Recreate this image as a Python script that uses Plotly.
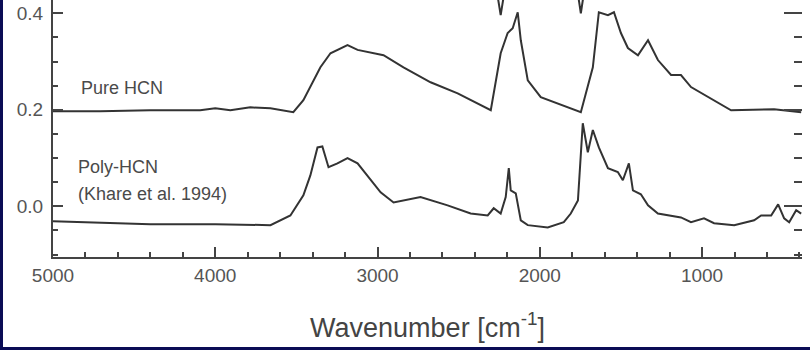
import plotly.graph_objects as go

# IR spectra (wavenumber in cm^-1, absorbance offset)
pure_wn = [5000, 4710, 4401, 4093, 4000, 3907, 3784, 3660, 3519, 3457, 3352, 3290,
           3185, 3123, 2963, 2840, 2673, 2506, 2302, 2241, 2198, 2167, 2136, 2117,
           2074, 1994, 1747, 1704, 1673, 1636, 1580, 1543, 1500, 1457, 1395, 1333,
           1272, 1191, 1130, 1068, 926, 821, 556, 389]
pure_abs = [0.197, 0.197, 0.199, 0.199, 0.203, 0.199, 0.205, 0.203, 0.195, 0.220, 0.288, 0.317,
            0.334, 0.324, 0.313, 0.288, 0.257, 0.234, 0.199, 0.317, 0.359, 0.369, 0.402, 0.344,
            0.261, 0.226, 0.195, 0.247, 0.288, 0.402, 0.396, 0.402, 0.359, 0.328, 0.313, 0.344,
            0.303, 0.272, 0.272, 0.247, 0.220, 0.199, 0.201, 0.195]

poly_wn = [5000, 4401, 4000, 3660, 3537, 3457, 3414, 3370, 3340, 3302, 3247, 3185,
           3123, 3062, 2981, 2901, 2735, 2568, 2426, 2321, 2284, 2241, 2210, 2191,
           2179, 2148, 2117, 2074, 1951, 1852, 1809, 1765, 1747, 1735, 1704, 1673,
           1636, 1580, 1519, 1488, 1451, 1426, 1377, 1333, 1272, 1130, 1068, 988,
           926, 802, 679, 636, 574, 531, 494, 463, 420, 389]
poly_abs = [-0.031, -0.037, -0.037, -0.039, -0.019, 0.023, 0.064, 0.122, 0.124, 0.081, 0.089, 0.100,
            0.089, 0.064, 0.029, 0.008, 0.019, 0.002, -0.015, -0.019, -0.004, -0.015, 0.019, 0.079,
            0.033, 0.027, -0.029, -0.039, -0.044, -0.033, -0.015, 0.012, 0.116, 0.172, 0.112, 0.158,
            0.122, 0.079, 0.071, 0.054, 0.089, 0.033, 0.025, 0.002, -0.015, -0.023, -0.033, -0.025,
            -0.035, -0.039, -0.029, -0.019, -0.019, 0.004, -0.025, -0.033, -0.008, -0.015]

# spectrum above the cropped top edge, only its two dips show
upper_wn = [5000, 2290, 2262, 2241, 2220, 1790, 1765, 1747, 1729, 380]
upper_abs = [0.47, 0.47, 0.44, 0.396, 0.44, 0.47, 0.44, 0.400, 0.44, 0.47]

x_range = [5000, 384]
y_range = [-0.105, 0.4274]
y_ticks = [0.0, 0.2, 0.4]

line_col = '#333333'
text_col = '#4a4a4a'
font = 'Liberation Sans, Arial, sans-serif'
navy = '#0a0c55'

W, H = 810, 350
ml, mr, mt, mb = 53, 8, 0, 93

fig = go.Figure()
for wn, ab in [(pure_wn, pure_abs), (poly_wn, poly_abs), (upper_wn, upper_abs)]:
    fig.add_trace(go.Scatter(x=wn, y=ab, mode='lines', showlegend=False, hoverinfo='skip',
                             line=dict(color=line_col, width=2)))
fig.add_trace(go.Scatter(x=[None], y=[None], yaxis='y2', showlegend=False))

axis_common = dict(ticks='inside', tickcolor='#444', tickwidth=2, ticklen=10,
                   showgrid=False, zeroline=False, automargin=False,
                   tickfont=dict(family=font, size=19, color='#555'))

fig.update_layout(
    width=W, height=H,
    margin=dict(l=ml, r=mr, t=mt, b=mb, autoexpand=False),
    paper_bgcolor='white', plot_bgcolor='white',
    xaxis=dict(range=x_range, dtick=1000, tick0=0, showline=True, linecolor='#444', linewidth=2,
               minor=dict(dtick=200, ticks='inside', ticklen=5, tickcolor='#444', tickwidth=1.5),
               title=dict(text='Wavenumber [cm<sup>-1</sup>]', standoff=33,
                          font=dict(family=font, size=27, color='#444')),
               **axis_common),
    yaxis=dict(range=y_range, tickvals=y_ticks, tickformat='.1f', showline=True,
               linecolor='#444', linewidth=2, ticklabelstandoff=4,
               minor=dict(dtick=0.05, ticks='inside', ticklen=5, tickcolor='#444', tickwidth=1.5),
               **axis_common),
    yaxis2=dict(range=y_range, overlaying='y', side='right', showline=False, automargin=False,
                tickvals=y_ticks, showticklabels=False, ticks='inside', ticklen=18,
                tickcolor='#444', tickwidth=2, showgrid=False, zeroline=False,
                minor=dict(dtick=0.05, ticks='inside', ticklen=8, tickcolor='#444', tickwidth=1.5)),
)

ann = dict(showarrow=False, xanchor='left', yanchor='middle',
           font=dict(family=font, size=18, color=text_col))
fig.add_annotation(x=4840, y=0.245, text='Pure HCN', **ann)
fig.add_annotation(x=4858, y=0.081, text='Poly-HCN', **ann)
fig.add_annotation(x=4858, y=0.025, text='(Khare et al. 1994)', **ann)

# navy frame of the slide on the left and bottom edges
pw, ph = W - ml - mr, H - mt - mb
px = lambda p: (p - ml) / pw
py = lambda p: (H - mb - p) / ph
fig.add_shape(type='rect', xref='paper', yref='paper', x0=px(0), x1=px(3), y0=py(H), y1=py(0),
              fillcolor=navy, line_width=0)
fig.add_shape(type='rect', xref='paper', yref='paper', x0=px(0), x1=px(W), y0=py(H), y1=py(H - 3),
              fillcolor=navy, line_width=0)

fig.write_html("out.html", config={'displayModeBar': False},
               post_script="document.body.style.margin='0';")
